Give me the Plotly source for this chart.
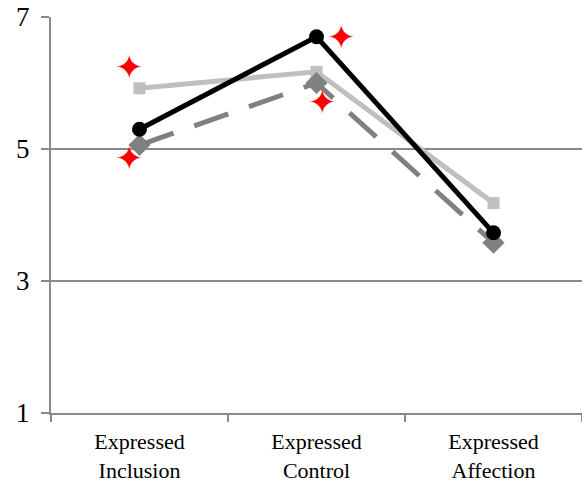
import plotly.graph_objects as go

categories = ["Expressed<br>Inclusion", "Expressed<br>Control", "Expressed<br>Affection"]
series_light = [5.92, 6.17, 4.18]
series_dashed = [5.06, 6.00, 3.58]
series_black = [5.30, 6.70, 3.73]
# significance markers (x in category units: 0, 1, 2 with small offsets)
star_x = [-0.056, -0.056, 1.14, 1.034]
star_y = [6.26, 4.88, 6.71, 5.73]
y_ticks = [1, 3, 5, 7]

grid = "#8a8a8a"
font = "Liberation Serif, Times New Roman, serif"

fig = go.Figure()
fig.add_trace(go.Scatter(x=categories, y=series_light, mode="lines+markers",
                         line=dict(color="#bfbfbf", width=5),
                         marker=dict(symbol="square", size=12, color="#bfbfbf")))
fig.add_trace(go.Scatter(x=categories, y=series_dashed, mode="lines+markers",
                         line=dict(color="#808080", width=5, dash="36px,22px"),
                         marker=dict(symbol="diamond", size=17, color="#808080")))
fig.add_trace(go.Scatter(x=categories, y=series_black, mode="lines+markers",
                         line=dict(color="#000000", width=5),
                         marker=dict(symbol="circle", size=15, color="#000000")))
# invisible trace to activate the overlay axis used by the star annotations
fig.add_trace(go.Scatter(x=star_x, y=star_y, mode="markers", xaxis="x2",
                         marker=dict(size=1, color="rgba(0,0,0,0)"), hoverinfo="skip"))
for sx, sy in zip(star_x, star_y):
    fig.add_annotation(x=sx, y=sy, xref="x2", yref="y", text="\u2726", showarrow=False,
                       yshift=-1, font=dict(family="DejaVu Sans", size=34, color="#ff0000"))

fig.update_layout(
    width=582, height=490,
    margin=dict(l=51, r=0, t=17, b=77),
    paper_bgcolor="white", plot_bgcolor="white",
    showlegend=False,
    font=dict(family=font, color="black"),
    xaxis=dict(type="category", tickson="boundaries", ticks="outside", ticklen=7,
               tickcolor=grid, tickwidth=2, showgrid=False, showline=True,
               linecolor=grid, linewidth=2, tickfont=dict(size=22, family=font),
               range=[-0.5, 2.5], automargin=False, ticklabelstandoff=8),
    xaxis2=dict(overlaying="x", range=[-0.5, 2.5], visible=False),
    yaxis=dict(range=[1, 7], tickvals=y_ticks, showgrid=True, gridcolor=grid,
               gridwidth=2, zeroline=False, showline=True, linecolor=grid, linewidth=2,
               ticks="outside", ticklen=8, tickcolor=grid, tickwidth=2, automargin=False,
               tickfont=dict(size=27, family=font), ticklabelstandoff=6,
               ticklabeloverflow="allow"),
)

fig.write_html("out.html", config={"displayModeBar": False},
               post_script="document.body.style.margin='0';document.body.style.overflow='hidden';")
